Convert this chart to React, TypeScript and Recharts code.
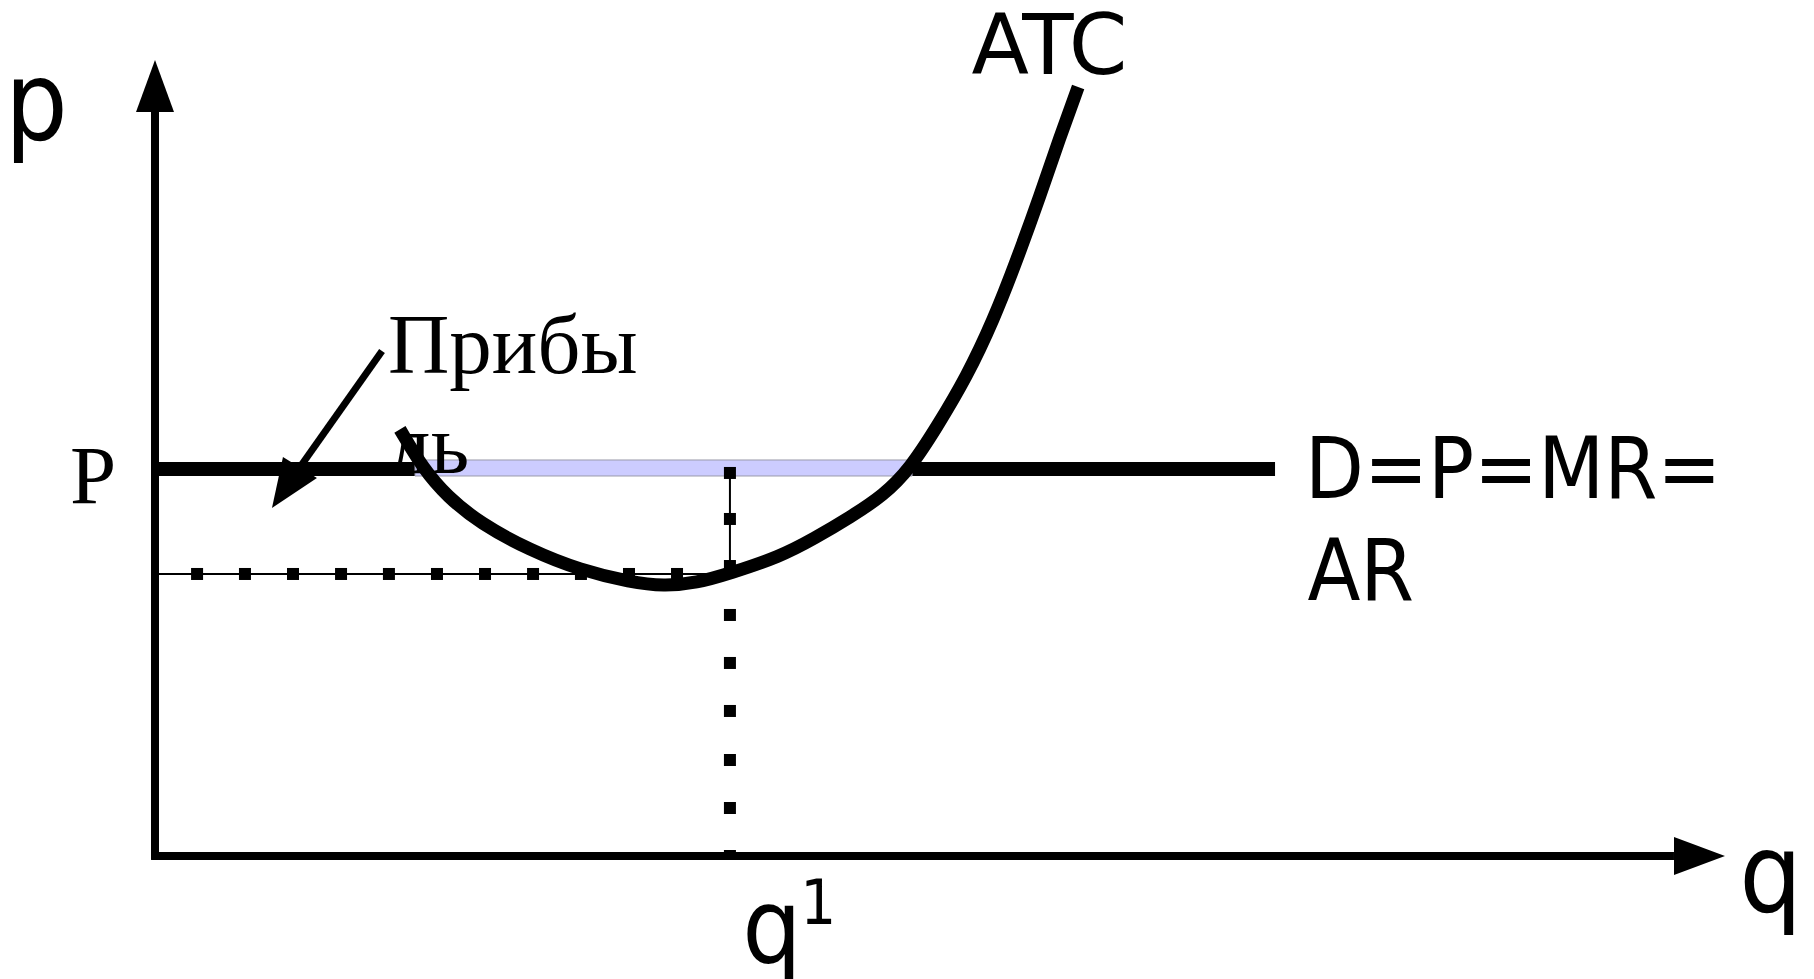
import React from 'react';
import {
  ComposedChart, Line, Scatter, XAxis, YAxis, ReferenceLine, ReferenceArea, ReferenceDot,
} from 'recharts';

// ---- data (q = quantity, p = price, in chart units 0..100) ----
const minAtcLevel = 35.43;
const q1 = 36.62;

const demandLine = [
  { q: 0, p: 48.62 },
  { q: 71.34, p: 48.62 },
];

const atcCurve = [
  { q: 15.6, p: 53.6 },
  { q: 17.1, p: 48.6 },
  { q: 18.6, p: 45.2 },
  { q: 20.7, p: 41.8 },
  { q: 23.9, p: 38.4 },
  { q: 27.1, p: 35.9 },
  { q: 30.3, p: 34.4 },
  { q: 32.4, p: 33.9 },
  { q: 34.5, p: 34.3 },
  { q: 36.6, p: 35.5 },
  { q: 39.8, p: 37.6 },
  { q: 42.0, p: 39.9 },
  { q: 44.3, p: 42.6 },
  { q: 46.4, p: 45.3 },
  { q: 48.1, p: 48.7 },
  { q: 49.8, p: 53.9 },
  { q: 51.7, p: 60.2 },
  { q: 53.4, p: 67.3 },
  { q: 54.9, p: 74.9 },
  { q: 56.4, p: 83.1 },
  { q: 57.6, p: 90.1 },
  { q: 58.8, p: 96.6 },
];

const hGuide = [
  { q: 0, p: 35.43 },
  { q: 36.62, p: 35.43 },
];
const vGuide = [
  { q: 36.62, p: 48.62 },
  { q: 36.62, p: 35.43 },
];

const hMarkerQ = [2.68, 5.73, 8.79, 11.85, 14.9, 17.96, 21.02, 24.08, 27.13, 30.19, 33.25];
const vMarkerP = [48.12, 42.34, 36.43, 30.28, 24.25, 18.22, 12.06, 6.03, 0];

const hMarkers = hMarkerQ.map((q) => ({ q, p: minAtcLevel }));
const vMarkers = vMarkerP.map((p) => ({ q: q1, p }));

const profitBand = { q1: 16.56, q2: 48.22, p1: 47.74, p2: 49.75 };

const profitArrow = { fromQ: 14.46, fromP: 63.44, toQ: 9.24, toP: 48.87, tipQ: 7.45, tipP: 43.72 };

const SANS_C = "'DejaVu Sans Condensed', 'DejaVu Sans', sans-serif";
const SANS = "'DejaVu Sans', sans-serif";
const SERIF = "'Liberation Serif', 'DejaVu Serif', serif";

type Lbl = { text: string; q: number; p: number; size: number; family: string; condensed?: boolean };
const labels: Lbl[] = [
  { text: 'p', q: -9.55, p: 89.95, size: 110, family: SANS_C, condensed: true },
  { text: 'q', q: 100.9, p: -7.04, size: 110, family: SANS_C, condensed: true },
  { text: 'q', q: 37.4, p: -13.3, size: 104, family: SANS_C, condensed: true },
  { text: '1', q: 41.1, p: -8.54, size: 63, family: SANS_C, condensed: true },
  { text: 'ATC', q: 52.0, p: 98.24, size: 84, family: SANS },
  { text: 'D=P=MR=', q: 73.25, p: 44.97, size: 85, family: SANS_C, condensed: true },
  { text: 'AR', q: 73.4, p: 32.16, size: 86, family: SANS_C, condensed: true },
  { text: 'Прибы', q: 14.84, p: 60.68, size: 85, family: SERIF },
  { text: 'P', q: -5.41, p: 44.35, size: 83, family: SERIF },
];
const lowerLabel: Lbl = { text: 'ль', q: 14.84, p: 48.12, size: 85, family: SERIF };

const square = (props: any) => (
  <rect x={props.cx - 6} y={props.cy - 6} width={12} height={12} fill="#000" />
);

const textShape = (l: Lbl) => (props: any) => (
  <text
    x={props.cx}
    y={props.cy}
    fontSize={l.size}
    fontFamily={l.family}
    fill="#000"
    textAnchor="start"
    style={l.condensed ? { fontStretch: 'condensed' } : undefined}
  >
    {l.text}
  </text>
);

const upArrow = (props: any) => (
  <polygon
    points={`${props.cx},${props.cy} ${props.cx - 19},${props.cy + 52} ${props.cx + 19},${props.cy + 52}`}
    fill="#000"
  />
);
const rightArrow = (props: any) => (
  <polygon
    points={`${props.cx},${props.cy} ${props.cx - 51},${props.cy - 19} ${props.cx - 51},${props.cy + 19}`}
    fill="#000"
  />
);
const profitHead = (props: any) => (
  <polygon
    points={`${props.cx},${props.cy} ${props.cx + 11},${props.cy - 51} ${props.cx + 45},${props.cy - 30}`}
    fill="#000"
  />
);

export default function App() {
  return (
    <div style={{ position: 'absolute', left: 0, top: 0, width: 1814, height: 979, background: '#fff' }}>
      <ComposedChart
        width={1814}
        height={979}
        margin={{ top: 60, right: 89, bottom: 123, left: 155 }}
      >
        <XAxis type="number" dataKey="q" domain={[0, 100]} hide allowDataOverflow />
        <YAxis type="number" dataKey="p" domain={[0, 100]} hide allowDataOverflow />

        <Line
          data={demandLine}
          dataKey="p"
          type="linear"
          stroke="#000"
          strokeWidth={14}
          dot={false}
          activeDot={false}
          isAnimationActive={false}
          zIndex={100}
        />

        <ReferenceArea
          x1={profitBand.q1}
          x2={profitBand.q2}
          y1={profitBand.p1}
          y2={profitBand.p2}
          fill="#ccccff"
          fillOpacity={1}
          stroke="#9a9aaa"
          strokeWidth={1}
          ifOverflow="visible"
          zIndex={110}
        />

        <Line
          data={hGuide}
          dataKey="p"
          type="linear"
          stroke="#000"
          strokeWidth={2}
          dot={false}
          activeDot={false}
          isAnimationActive={false}
          zIndex={120}
        />
        <Line
          data={vGuide}
          dataKey="p"
          type="linear"
          stroke="#000"
          strokeWidth={2}
          dot={false}
          activeDot={false}
          isAnimationActive={false}
          zIndex={120}
        />
        <Scatter data={hMarkers} dataKey="p" shape={square} isAnimationActive={false} zIndex={130} />
        <Scatter data={vMarkers} dataKey="p" shape={square} isAnimationActive={false} zIndex={130} />

        <ReferenceDot
          x={lowerLabel.q}
          y={lowerLabel.p}
          r={0}
          ifOverflow="visible"
          shape={textShape(lowerLabel)}
          zIndex={140}
        />

        <Line
          data={atcCurve}
          dataKey="p"
          type="basis"
          stroke="#000"
          strokeWidth={13}
          dot={false}
          activeDot={false}
          isAnimationActive={false}
          zIndex={400}
        />

        {/* axes */}
        <ReferenceLine
          segment={[{ x: 0, y: -0.4 }, { x: 0, y: 93.5 }]}
          stroke="#000"
          strokeWidth={8}
          ifOverflow="visible"
          zIndex={450}
        />
        <ReferenceLine
          segment={[{ x: -0.25, y: 0 }, { x: 96.75, y: 0 }]}
          stroke="#000"
          strokeWidth={8}
          ifOverflow="visible"
          zIndex={450}
        />
        <ReferenceDot x={0} y={100} r={0} ifOverflow="visible" shape={upArrow} zIndex={450} />
        <ReferenceDot x={100} y={0} r={0} ifOverflow="visible" shape={rightArrow} zIndex={450} />

        {/* profit pointer */}
        <ReferenceLine
          segment={[{ x: profitArrow.fromQ, y: profitArrow.fromP }, { x: profitArrow.toQ, y: profitArrow.toP }]}
          stroke="#000"
          strokeWidth={7}
          ifOverflow="visible"
          zIndex={460}
        />
        <ReferenceDot
          x={profitArrow.tipQ}
          y={profitArrow.tipP}
          r={0}
          ifOverflow="visible"
          shape={profitHead}
          zIndex={460}
        />

        {labels.map((l, i) => (
          <ReferenceDot
            key={i}
            x={l.q}
            y={l.p}
            r={0}
            ifOverflow="visible"
            shape={textShape(l)}
            zIndex={500}
          />
        ))}
      </ComposedChart>
    </div>
  );
}
